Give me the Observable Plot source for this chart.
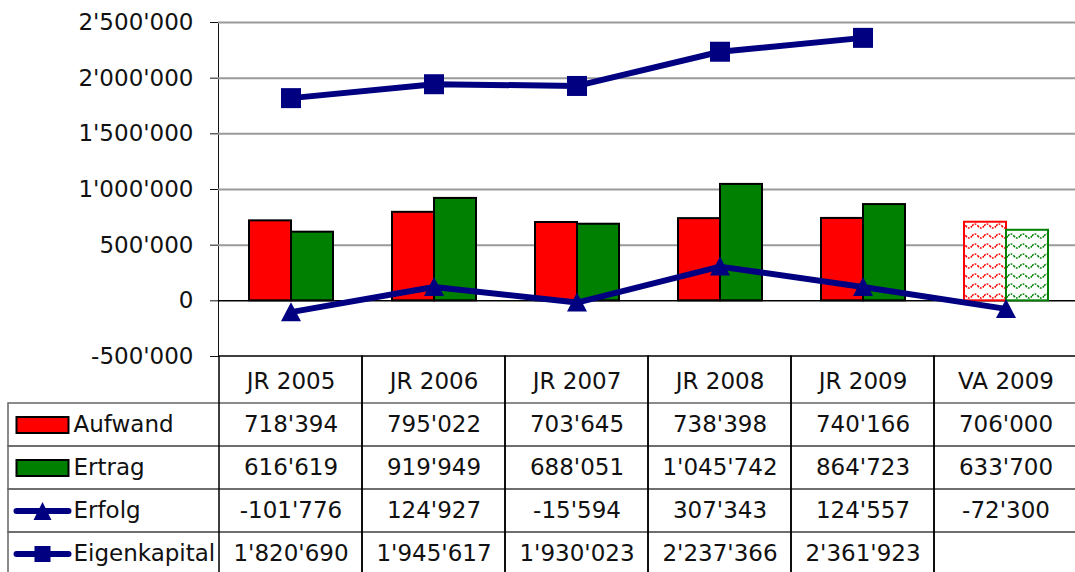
<!DOCTYPE html>
<html><head><meta charset="utf-8">
<script src="https://cdn.jsdelivr.net/npm/d3@7"></script>
<script src="https://cdn.jsdelivr.net/npm/@observablehq/plot@0.6"></script>
<style>
html,body{margin:0;padding:0;background:#fff;}
#chart{width:1075px;height:572px;position:relative;overflow:hidden;background:#fff;}
#chart svg{display:block;overflow:visible;}
</style></head><body><div id="chart"></div>
<script>
// ---- data ----
const categories = ["JR 2005", "JR 2006", "JR 2007", "JR 2008", "JR 2009", "VA 2009"];
const aufwand = [718394, 795022, 703645, 738398, 740166, 706000];
const ertrag = [616619, 919949, 688051, 1045742, 864723, 633700];
const erfolg = [-101776, 124927, -15594, 307343, 124557, -72300];
const eigenkapital = [1820690, 1945617, 1930023, 2237366, 2361923, null];
const rowNames = ["Aufwand", "Ertrag", "Erfolg", "Eigenkapital"];
const yTicks = [-500000, 0, 500000, 1000000, 1500000, 2000000, 2500000];

// ---- helpers ----
const fmt = d3.formatLocale({decimal: ".", thousands: "'", grouping: [3], currency: ["", ""], minus: "-"}).format(",d");
const series = {Aufwand: aufwand, Ertrag: ertrag, Erfolg: erfolg, Eigenkapital: eigenkapital};
const data = categories.map((cat, i) => ({cat, Aufwand: aufwand[i], Ertrag: ertrag[i], Erfolg: erfolg[i], Eigenkapital: eigenkapital[i]}));
const cells = rowNames.flatMap(row => categories.map((cat, i) => ({row, cat, value: series[row][i]}))).filter(d => d.value != null);
const isBudget = d => d.cat.startsWith("VA");
const navy = "#000080";
const font = "DejaVu Sans";
const xRange = [218, 1077];

const triangle = {draw(c) { c.moveTo(0, -10); c.lineTo(10, 9); c.lineTo(-10, 9); c.closePath(); }};
const square = {draw(c) { c.moveTo(-10, -10); c.lineTo(10, -10); c.lineTo(10, 10); c.lineTo(-10, 10); c.closePath(); }};
const keyRect = {draw(c) { c.moveTo(-26, -8); c.lineTo(26, -8); c.lineTo(26, 8); c.lineTo(-26, 8); c.closePath(); }};
function lineKey(marker) {
  return {draw(c) {
    c.moveTo(-26, -3); c.lineTo(26, -3); c.arc(26, 0, 3, -Math.PI / 2, Math.PI / 2); c.lineTo(-26, 3); c.arc(-26, 0, 3, Math.PI / 2, 3 * Math.PI / 2); c.closePath();
    if (marker === "tri") { c.moveTo(0, -9); c.lineTo(9, 9); c.lineTo(-9, 9); c.closePath(); }
    else { c.moveTo(-8, -8); c.lineTo(8, -8); c.lineTo(8, 8); c.lineTo(-8, 8); c.closePath(); }
  }};
}

const baseStyle = {fontFamily: font, fontSize: "23px", color: "#111", background: "transparent", overflow: "visible"};

// ---- chart ----
const chart = Plot.plot({
  width: 1075, height: 356, marginTop: 22, marginBottom: 0, marginLeft: 218, marginRight: 0,
  style: baseStyle,
  x: {type: "band", domain: categories, range: xRange, padding: 0, axis: null},
  y: {domain: [-500000, 2500000], ticks: yTicks, tickFormat: fmt, tickSize: 8, tickPadding: 17, line: true, label: null},
  marks: [
    Plot.ruleY(yTicks.filter(v => v > 0), {stroke: "#9a9a9a", strokeWidth: 2}),
    Plot.ruleY([0], {stroke: "#000", strokeWidth: 1.5}),
    Plot.barY(data, {filter: d => !isBudget(d), x: "cat", y: "Aufwand", fill: "#ff0000", stroke: "#000", strokeWidth: 2, insetLeft: 30, insetRight: 71}),
    Plot.barY(data, {filter: d => !isBudget(d), x: "cat", y: "Ertrag", fill: "#008000", stroke: "#000", strokeWidth: 2, insetLeft: 72, insetRight: 29}),
    Plot.barY(data, {filter: isBudget, x: "cat", y: "Aufwand", fill: "url(#waveRed)", stroke: "#ff0000", strokeWidth: 2, insetLeft: 30, insetRight: 71}),
    Plot.barY(data, {filter: isBudget, x: "cat", y: "Ertrag", fill: "url(#waveGreen)", stroke: "#008000", strokeWidth: 2, insetLeft: 72, insetRight: 29}),
    Plot.line(data, {x: "cat", y: "Erfolg", stroke: navy, strokeWidth: 6}),
    Plot.dot(data, {x: "cat", y: "Erfolg", symbol: triangle, fill: navy, r: 10}),
    Plot.line(data.filter(d => d.Eigenkapital != null), {x: "cat", y: "Eigenkapital", stroke: navy, strokeWidth: 6}),
    Plot.dot(data.filter(d => d.Eigenkapital != null), {x: "cat", y: "Eigenkapital", symbol: square, fill: navy, r: 10})
  ]
});

// wavy hatch patterns for the budget bars
const defs = d3.select(chart).insert("defs", ":first-child");
[["waveRed", "#ff0000"], ["waveGreen", "#008000"]].forEach(([id, col]) => {
  const p = defs.append("pattern").attr("id", id).attr("patternUnits", "userSpaceOnUse").attr("width", 12).attr("height", 10);
  p.append("rect").attr("width", 12).attr("height", 10).attr("fill", "#fff");
  p.append("path").attr("d", "M0,6 Q3,2 6,6 T12,6").attr("fill", "none").attr("stroke", col).attr("stroke-width", 1.6).attr("stroke-dasharray", "2 1.2");
});

// ---- data table ----
const table = Plot.plot({
  width: 1075, height: 216, marginTop: 0, marginBottom: 0, marginLeft: 8, marginRight: 0,
  style: baseStyle,
  x: {type: "band", domain: categories, range: xRange, padding: 0, axis: null},
  y: {type: "band", domain: ["header", ...rowNames], range: [2, 221], padding: 0, axis: null},
  marks: [
    Plot.cell(rowNames, {y: d => d, fill: "none", stroke: "#666", strokeWidth: 1.5, insetRight: -3}),
    Plot.cell(categories, {x: d => d, fill: "none", stroke: "#000", strokeWidth: 1.5, insetBottom: -5}),
    Plot.text(categories, {x: d => d, y: () => "header", text: d => d, fill: "#111"}),
    Plot.text(cells, {x: "cat", y: "row", text: d => fmt(d.value), fill: "#111"}),
    Plot.text(rowNames, {y: d => d, text: d => d, frameAnchor: "left", textAnchor: "start", dx: 65, fill: "#111"}),
    Plot.dot(["Aufwand"], {y: d => d, frameAnchor: "left", dx: 34, symbol: keyRect, fill: "#ff0000", stroke: "#000", strokeWidth: 2}),
    Plot.dot(["Ertrag"], {y: d => d, frameAnchor: "left", dx: 34, symbol: keyRect, fill: "#008000", stroke: "#000", strokeWidth: 2}),
    Plot.dot(["Erfolg"], {y: d => d, frameAnchor: "left", dx: 34, symbol: lineKey("tri"), fill: navy}),
    Plot.dot(["Eigenkapital"], {y: d => d, frameAnchor: "left", dx: 34, symbol: lineKey("sq"), fill: navy})
  ]
});

const root = document.getElementById("chart");
root.appendChild(chart);
root.appendChild(table);
</script>
</body></html>
